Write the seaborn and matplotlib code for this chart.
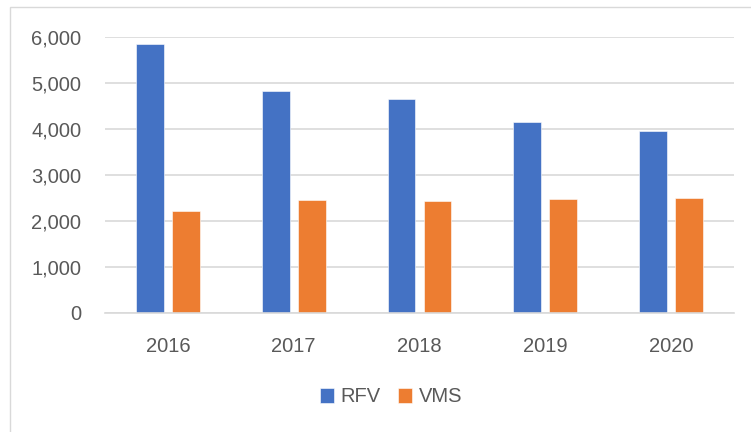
import matplotlib
matplotlib.use("Agg")
import matplotlib.pyplot as plt
from matplotlib.patches import Rectangle
import seaborn as sns
import pandas as pd

years = ["2016", "2017", "2018", "2019", "2020"]
rfv = [5850, 4820, 4655, 4150, 3960]
vms = [2215, 2450, 2435, 2478, 2500]
series = ["RFV", "VMS"]
colors = ["#4472C4", "#ED7D31"]
yticks = [0, 1000, 2000, 3000, 4000, 5000, 6000]

df = pd.DataFrame({
    "year": years * 2,
    "value": rfv + vms,
    "series": ["RFV"] * len(years) + ["VMS"] * len(years),
})

sns.set_theme(style="white")
plt.rcParams['font.family'] = ['Liberation Sans', 'DejaVu Sans']

fig = plt.figure(figsize=(7.51, 4.32), dpi=100)
# chart border
fig.patches.append(Rectangle((10 / 751, -0.1), 1.2, (432 - 7) / 432 + 0.1,
                             transform=fig.transFigure, fill=False,
                             edgecolor="#d9d9d9", linewidth=1.0, zorder=0))

ax = fig.add_axes([105 / 751, (432 - 313) / 432, (734 - 105) / 751, (313 - 37) / 432])
sns.barplot(data=df, x="year", y="value", hue="series", palette=colors, saturation=1,
            width=0.571, gap=0.226, ax=ax, legend=True, edgecolor="white", linewidth=0.4)

ax.set_ylim(0, 6000)
ax.set_yticks(yticks)
ax.set_yticklabels([f"{v:,}" for v in yticks])
ax.set_xlabel("")
ax.set_ylabel("")
ax.grid(axis="y", color="#d9d9d9", linewidth=1.2)
ax.set_axisbelow(True)
for s in ["top", "right", "left"]:
    ax.spines[s].set_visible(False)
ax.spines["bottom"].set_color("#d9d9d9")
ax.spines["bottom"].set_linewidth(1.2)
ax.tick_params(axis="y", length=0, pad=17, labelsize=14.5, labelcolor="#595959")
ax.tick_params(axis="x", length=0, pad=17, labelsize=14.5, labelcolor="#595959")

handles, labels = ax.get_legend_handles_labels()
ax.legend_.remove()
fig.legend(handles, labels, loc="center", bbox_to_anchor=(391 / 751, (432 - 397) / 432),
           ncol=2, frameon=False, fontsize=14.5, labelcolor="#595959",
           handlelength=0.7, handleheight=0.7, handletextpad=0.3, columnspacing=0.9)

fig.savefig("out.png", dpi=100)
